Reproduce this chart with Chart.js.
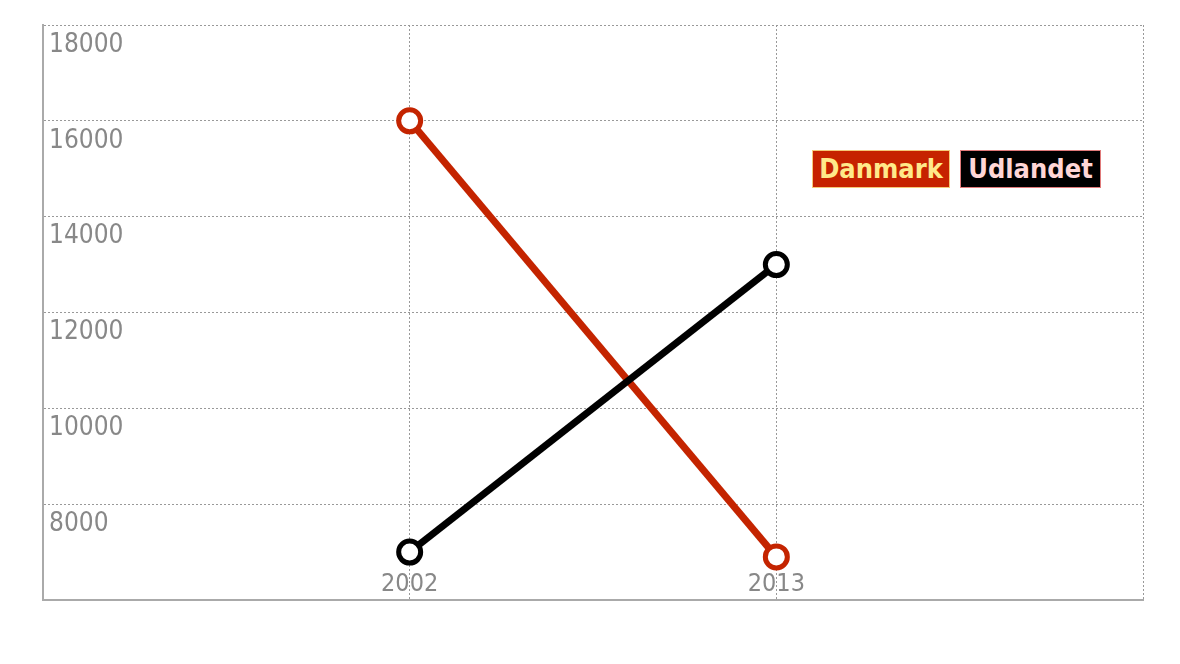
<!DOCTYPE html>
<html>
<head>
<meta charset="utf-8">
<script src="https://cdn.jsdelivr.net/npm/chart.js@4"></script>
<style>
  body { margin: 0; background: #fff; }
  #wrap { position: relative; width: 1180px; height: 664px; }
  .legend { position: absolute; top: 150px; height: 38px; line-height: 36px; box-sizing: border-box;
            font-family: "Liberation Sans Narrow", "DejaVu Sans Condensed", sans-serif; font-size: 27px;
            font-weight: bold; text-align: center; }
  #lgDk { left: 812px; width: 138px; background: #c62200; color: #ffe98a; border: 1px solid #f5c878; }
  #lgUd { left: 960px; width: 141px; background: #000; color: #ffd6d6; border: 1px solid #e07a7a; }
</style>
</head>
<body>
<div id="wrap">
  <canvas id="chart" width="1180" height="664"></canvas>
  <div class="legend" id="lgDk">Danmark</div>
  <div class="legend" id="lgUd">Udlandet</div>
</div>
<script>
const years = [2002, 2013];
const danmark = [16000, 6900];
const udlandet = [7000, 13000];
const yTicks = [6000, 8000, 10000, 12000, 14000, 16000, 18000];

const fontFam = '"Liberation Sans Narrow", "DejaVu Sans Condensed", sans-serif';

function series(vals) {
    return vals.map((v, i) => ({ x: years[i], y: v }));
}

const ctx = document.getElementById('chart').getContext('2d');
const chart = new Chart(ctx, {
    type: 'line',
    data: {
        datasets: [
            { label: 'Udlandet', data: series(udlandet), borderColor: '#000', borderWidth: 7,
              pointRadius: 11, pointBorderWidth: 5, pointBackgroundColor: '#fff', pointBorderColor: '#000' },
            { label: 'Danmark', data: series(danmark), borderColor: '#c42400', borderWidth: 7,
              pointRadius: 11, pointBorderWidth: 5, pointBackgroundColor: '#fff', pointBorderColor: '#c42400' }
        ]
    },
    options: {
        responsive: false,
        animation: false,
        layout: { padding: { left: 31, top: 25, right: 37, bottom: 64 } },
        plugins: { legend: { display: false }, tooltip: { enabled: false } },
        scales: {
            x: {
                type: 'linear',
                min: 1991, max: 2024,
                afterBuildTicks: s => { s.ticks = [1991, 2002, 2013, 2024].map(v => ({ value: v })); },
                grid: { color: '#999', lineWidth: 1, drawTicks: false },
                border: { color: '#aaa', width: 2, dash: [2, 2] },
                ticks: {
                    padding: -31,
                    color: '#888',
                    font: { family: fontFam, size: 25 },
                    maxRotation: 0,
                    callback: v => years.includes(v) ? String(v) : ''
                }
            },
            y: {
                min: 6000, max: 18000,
                afterBuildTicks: s => { s.ticks = yTicks.map(v => ({ value: v })); },
                grid: { color: '#999', lineWidth: 1, drawTicks: false },
                border: { color: '#aaa', width: 2, dash: [2, 2] },
                ticks: {
                    mirror: true,
                    padding: 6,
                    labelOffset: 20,
                    color: '#888',
                    font: { family: fontFam, size: 26 },
                    callback: v => v === 6000 ? '' : String(v)
                }
            }
        }
    }
});
</script>
</body>
</html>
